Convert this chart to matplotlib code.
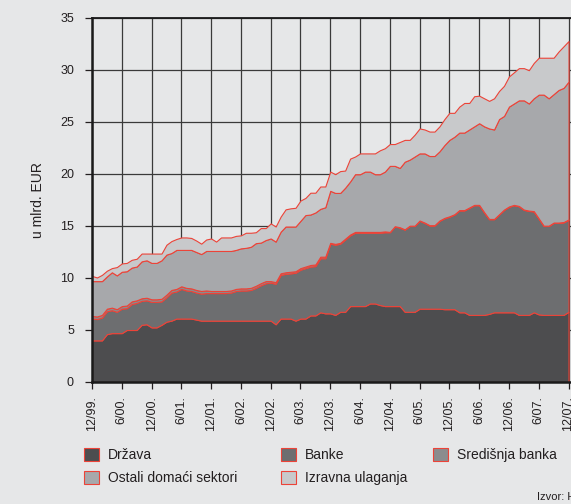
import matplotlib
matplotlib.use("Agg")
import matplotlib.pyplot as plt
from matplotlib.patches import Patch
import numpy as np

plt.rcParams['font.family'] = ['Liberation Sans', 'DejaVu Sans']

# monthly stock of external debt by sector, 12/1999 - 12/2007 (bn EUR)
drzava = [4.0,
          4.0, 4.0, 4.6, 4.7, 4.7, 4.7, 5.0, 5.0, 5.0, 5.5, 5.55, 5.25,
          5.25, 5.5, 5.8, 5.9, 6.1, 6.1, 6.1, 6.1, 6.0, 5.9, 5.9, 5.9,
          5.9, 5.9, 5.9, 5.9, 5.9, 5.9, 5.9, 5.9, 5.9, 5.9, 5.9, 5.9,
          5.55, 6.1, 6.1, 6.1, 5.9, 6.1, 6.1, 6.4, 6.4, 6.7, 6.6, 6.6,
          6.45, 6.75, 6.75, 7.3, 7.3, 7.3, 7.3, 7.55, 7.55, 7.4, 7.3, 7.3,
          7.3, 7.3, 6.75, 6.75, 6.75, 7.05, 7.05, 7.05, 7.05, 7.05, 7.0, 7.0,
          7.0, 6.7, 6.7, 6.45, 6.45, 6.45, 6.45, 6.55, 6.7, 6.7, 6.7, 6.7,
          6.7, 6.45, 6.45, 6.45, 6.7, 6.5, 6.45, 6.45, 6.45, 6.45, 6.45, 6.75]
banke = [2.1,
         2.05, 2.2, 2.2, 2.2, 2.05, 2.35, 2.1, 2.5, 2.6, 2.3, 2.3, 2.45,
         2.45, 2.25, 2.35, 2.7, 2.6, 2.85, 2.7, 2.65, 2.6, 2.6, 2.65, 2.65,
         2.65, 2.65, 2.65, 2.7, 2.85, 2.9, 2.9, 2.95, 3.15, 3.4, 3.6, 3.65,
         3.9, 4.2, 4.3, 4.35, 4.6, 4.7, 4.85, 4.7, 4.75, 5.2, 5.3, 6.7,
         6.75, 6.55, 6.95, 6.8, 7.05, 7.05, 7.05, 6.8, 6.8, 6.95, 7.1, 7.1,
         7.65, 7.55, 7.9, 8.25, 8.25, 8.45, 8.25, 8.0, 8.0, 8.45, 8.75, 8.9,
         9.1, 9.8, 9.8, 10.3, 10.55, 10.55, 9.85, 9.1, 8.95, 9.4, 9.85, 10.15,
         10.3, 10.45, 10.1, 10.0, 9.7, 9.2, 8.55, 8.55, 8.85, 8.85, 8.9, 8.85]
sredisnja = [0.25,
             0.25, 0.25, 0.25, 0.25, 0.25, 0.25, 0.25, 0.25, 0.25, 0.25, 0.25, 0.25,
             0.25, 0.25, 0.25, 0.25, 0.25, 0.25, 0.25, 0.25, 0.25, 0.25, 0.25, 0.2,
             0.2, 0.2, 0.2, 0.2, 0.2, 0.2, 0.2, 0.2, 0.2, 0.2, 0.2, 0.15,
             0.15, 0.15, 0.15, 0.15, 0.15, 0.15, 0.15, 0.15, 0.15, 0.15, 0.15, 0.08,
             0.08, 0.08, 0.08, 0.08, 0.08, 0.08, 0.08, 0.08, 0.08, 0.08, 0.08, 0.03,
             0.03, 0.03, 0.03, 0.03, 0.03, 0.03, 0.03, 0.03, 0.03, 0.03, 0.03, 0.03,
             0.03, 0.03, 0.03, 0.03, 0.03, 0.03, 0.03, 0.03, 0.03, 0.03, 0.03, 0.03,
             0.03, 0.03, 0.03, 0.03, 0.03, 0.03, 0.03, 0.03, 0.03, 0.03, 0.03, 0.03]
ostali = [3.35,
          3.4, 3.25, 3.1, 3.4, 3.25, 3.3, 3.3, 3.25, 3.25, 3.55, 3.6, 3.5,
          3.5, 3.7, 3.85, 3.55, 3.75, 3.5, 3.65, 3.7, 3.65, 3.55, 3.8, 3.85,
          3.85, 3.85, 3.85, 3.8, 3.75, 3.85, 3.9, 3.95, 4.1, 3.9, 3.95, 4.1,
          3.9, 4.0, 4.4, 4.35, 4.3, 4.55, 4.95, 4.85, 5.0, 4.6, 4.75, 5.0,
          4.9, 4.8, 4.9, 5.1, 5.55, 5.55, 5.8, 5.8, 5.55, 5.55, 5.75, 6.35,
          5.8, 5.7, 6.5, 6.35, 6.65, 6.45, 6.65, 6.65, 6.65, 6.65, 7.0, 7.35,
          7.45, 7.45, 7.45, 7.5, 7.55, 7.85, 8.25, 8.7, 8.6, 9.15, 9.0, 9.6,
          9.75, 10.15, 10.5, 10.3, 10.85, 11.9, 12.6, 12.25, 12.35, 12.75, 12.9, 13.25]
izravna = [0.5,
           0.35, 0.6, 0.55, 0.4, 0.8, 0.8, 0.8, 0.75, 0.75, 0.75, 0.65, 0.9,
           0.9, 0.65, 0.95, 1.15, 1.05, 1.2, 1.2, 1.15, 1.1, 1.0, 1.1, 1.2,
           0.9, 1.3, 1.3, 1.3, 1.35, 1.25, 1.45, 1.35, 1.05, 1.4, 1.15, 1.45,
           1.45, 1.45, 1.65, 1.75, 1.8, 1.95, 1.65, 2.1, 1.9, 2.15, 2.0, 1.85,
           1.8, 2.1, 1.65, 2.2, 1.7, 2.0, 1.75, 1.75, 2.0, 2.3, 2.25, 2.1,
           2.1, 2.5, 2.1, 1.9, 2.1, 2.4, 2.3, 2.35, 2.35, 2.4, 2.5, 2.6,
           2.3, 2.5, 2.85, 2.55, 2.9, 2.65, 2.7, 2.65, 3.0, 2.7, 2.9, 2.9,
           3.0, 3.1, 3.1, 3.2, 3.4, 3.55, 3.55, 3.9, 3.5, 3.7, 4.0, 3.9]

tick_labels = ['12/99.', '6/00.', '12/00.', '6/01.', '12/01.', '6/02.', '12/02.',
               '6/03.', '12/03.', '6/04.', '12/04.', '6/05.', '12/05.', '6/06.',
               '12/06.', '6/07.', '12/07.']
names = ['Država', 'Banke', 'Središnja banka', 'Ostali domaći sektori', 'Izravna ulaganja']
colors = ['#4d4d4f', '#6d6e70', '#8b8c8e', '#a7a8ab', '#c8c9cb']
red = '#ec4338'
bg = '#e6e7e8'
txt = '#231f20'

months = np.arange(len(drzava))

fig = plt.figure(figsize=(5.71, 5.04), dpi=100, facecolor=bg)
ax = fig.add_axes([92 / 571, 122 / 504, 479 / 571, 364 / 504], facecolor=bg)

ax.stackplot(months, drzava, banke, sredisnja, ostali, izravna,
             colors=colors, edgecolor=red, linewidth=0.8, zorder=2)

ax.set_xlim(0, 96.5)
ax.set_ylim(0, 35)
ax.set_yticks(np.arange(0, 36, 5))
ax.set_xticks(np.arange(0, 97, 6))
ax.set_xticklabels(tick_labels, rotation=90, fontsize=9, color=txt)
ax.tick_params(axis='y', direction='out', length=5, width=0.9, pad=8,
               labelsize=9, colors=txt)
ax.tick_params(axis='x', direction='out', length=5, width=0.9, pad=5, colors=txt)
ax.grid(True, color='#3a3a3a', linewidth=0.9, zorder=1)
ax.set_axisbelow(True)

ax.spines['right'].set_visible(False)
ax.spines['left'].set_linewidth(1.8)
ax.spines['bottom'].set_linewidth(1.8)
ax.spines['top'].set_linewidth(1.3)
for s in ['left', 'bottom', 'top']:
    ax.spines[s].set_color('#1a1a1a')
    ax.spines[s].set_zorder(3)

fig.text(38 / 571, (504 - 200) / 504, 'u mlrd. EUR', rotation=90,
         ha='center', va='center', fontsize=10, color=txt)

# legend laid out as three separate columns
def patch(i):
    return Patch(facecolor=colors[i], edgecolor=red, linewidth=0.8)

columns = [([0, 3], 84), ([1, 4], 281), ([2], 433)]
for idx, xpx in columns:
    fig.legend([patch(i) for i in idx], [names[i] for i in idx],
               loc='upper left', bbox_to_anchor=(xpx / 571, (504 - 448) / 504),
               frameon=False, fontsize=10, handlelength=1.1, handleheight=1.1,
               handletextpad=0.6, labelspacing=0.6, borderpad=0,
               borderaxespad=0, labelcolor=txt)

fig.text(537 / 571, 7 / 504, 'Izvor: HNB.', ha='left', va='center',
         fontsize=8, color=txt)

fig.savefig('out.png', dpi=100, facecolor=bg)
